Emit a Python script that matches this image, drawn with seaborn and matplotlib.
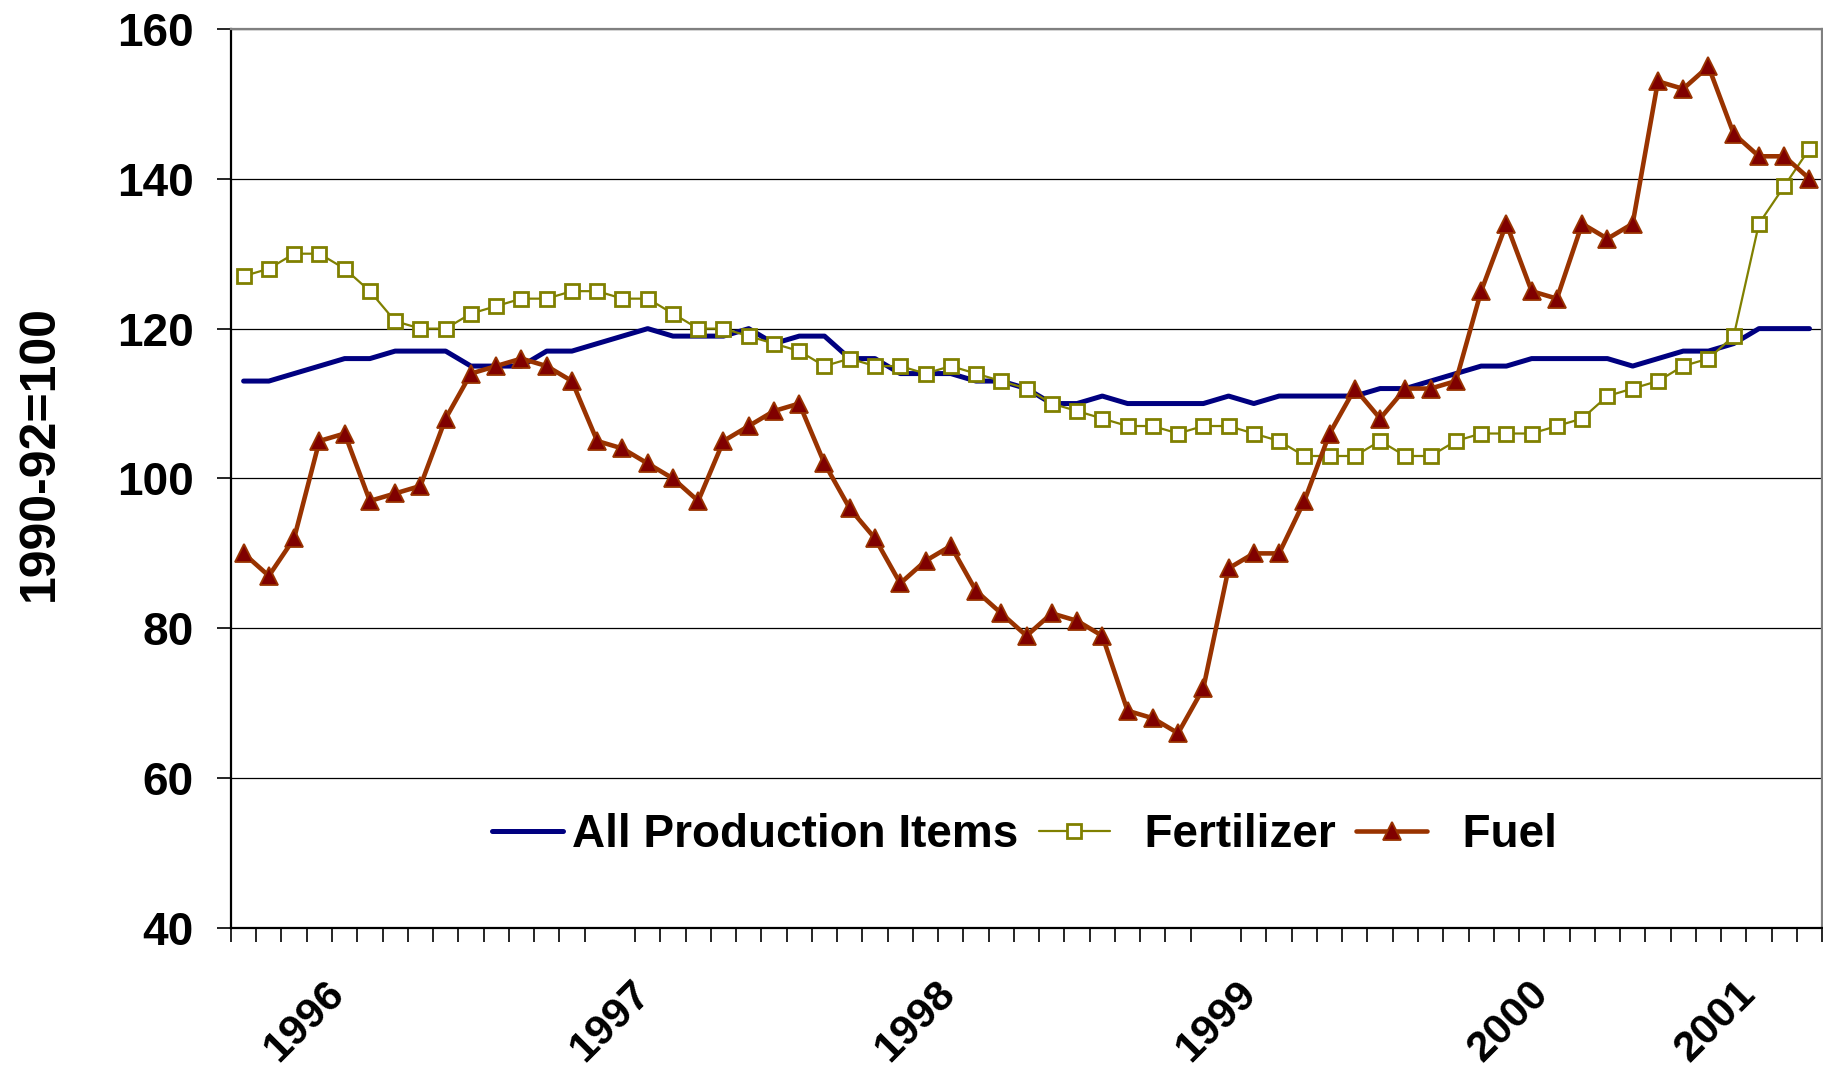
import pandas as pd
import matplotlib.pyplot as plt
import seaborn as sns

# Prix payés par les agriculteurs, indice mensuel (1990-92=100)
all_items = [113, 113, 114, 115, 116, 116, 117, 117, 117, 115, 115, 115, 117, 117, 118, 119, 120, 119, 119, 119,
             120, 118, 119, 119, 116, 116, 114, 114, 114, 113, 113, 112, 110, 110, 111, 110, 110, 110,
             110, 111, 110, 111, 111, 111, 111, 112, 112, 113, 114, 115, 115, 116, 116, 116, 116, 115,
             116, 117, 117, 118, 120, 120, 120]
fertilizer = [127, 128, 130, 130, 128, 125, 121, 120, 120, 122, 123, 124, 124, 125, 125, 124, 124, 122, 120, 120,
              119, 118, 117, 115, 116, 115, 115, 114, 115, 114, 113, 112, 110, 109, 108, 107, 107, 106,
              107, 107, 106, 105, 103, 103, 103, 105, 103, 103, 105, 106, 106, 106, 107, 108, 111, 112,
              113, 115, 116, 119, 134, 139, 144]
fuel = [90, 87, 92, 105, 106, 97, 98, 99, 108, 114, 115, 116, 115, 113, 105, 104, 102, 100, 97, 105,
        107, 109, 110, 102, 96, 92, 86, 89, 91, 85, 82, 79, 82, 81, 79, 69, 68, 66,
        72, 88, 90, 90, 97, 106, 112, 108, 112, 112, 113, 125, 134, 125, 124, 134, 132, 134,
        153, 152, 155, 146, 143, 143, 140]
year_labels = ['1996', '1997', '1998', '1999', '2000', '2001']

# mise en page
year_label_pos = [2.4, 14.5, 26.6, 38.5, 50.1, 58.3]

df = pd.DataFrame({
    'mois': range(len(all_items)),
    'All Production Items': all_items,
    'Fertilizer': fertilizer,
    'Fuel': fuel,
})

sns.set_style('white')
plt.rcParams['font.family'] = ['Liberation Sans', 'DejaVu Sans']
plt.rcParams['font.weight'] = 'bold'
for key in ['text.color', 'axes.labelcolor', 'xtick.color', 'ytick.color']:
    plt.rcParams[key] = 'black'

fig = plt.figure(figsize=(18.23, 10.71), dpi=100)
ax = fig.add_axes([0.1267, 0.1335, 0.8728, 0.8395])

sns.lineplot(data=df, x='mois', y='All Production Items', ax=ax, color='#000080',
             linewidth=3.6, label='All Production Items', errorbar=None, zorder=3)
sns.lineplot(data=df, x='mois', y='Fertilizer', ax=ax, color='#808000', linewidth=1.6,
             marker='s', markersize=9.5, markerfacecolor='white', markeredgecolor='#808000',
             markeredgewidth=2, label='  Fertilizer', errorbar=None, zorder=4)
sns.lineplot(data=df, x='mois', y='Fuel', ax=ax, color='#993300', linewidth=3.3,
             marker='^', markersize=13, markerfacecolor='#800000', markeredgecolor='#993300',
             markeredgewidth=1.3, label='  Fuel', errorbar=None, zorder=5)

ax.set_xlim(-0.5, len(fuel) - 0.5)
ax.set_ylim(40, 160)
ax.set_yticks(range(40, 161, 20))
ax.yaxis.grid(True, color='black', linewidth=0.9)
ax.xaxis.grid(False)

# axe des catégories : un trait par mois, étiquettes des années
ax.set_xticks([i - 0.5 for i in range(len(fuel) + 1)], minor=True)
ax.set_xticks(year_label_pos, year_labels)
ax.tick_params(axis='x', which='minor', bottom=True, length=10, width=1.2, color='black', direction='out')
ax.tick_params(axis='x', which='major', length=0, pad=67, labelsize=31, labelrotation=45)
for lbl in ax.get_xticklabels():
    lbl.set_ha('center')
    lbl.set_va('center')
    lbl.set_fontweight('bold')

ax.tick_params(axis='y', left=True, length=10, width=1.2, color='black', direction='out', pad=17, labelsize=33)
for lbl in ax.get_yticklabels():
    lbl.set_fontweight('bold')

ax.set_xlabel('')
ax.set_ylabel('1990-92=100', fontsize=36, fontweight='bold')
ax.yaxis.label.set_va('center')
ax.yaxis.set_label_coords(-0.12, 0.528)

for side in ['left', 'bottom']:
    ax.spines[side].set_color('black')
    ax.spines[side].set_linewidth(1.6)
for side in ['top', 'right']:
    ax.spines[side].set_color('#808080')
    ax.spines[side].set_linewidth(1.6)

ax.legend(loc='center', bbox_to_anchor=(0.4985, 0.103), ncol=3, frameon=False,
          prop={'size': 33, 'weight': 'bold'}, handlelength=1.55, handletextpad=0.2,
          columnspacing=0.45, numpoints=1)

fig.savefig('out.png', dpi=100)
plt.close(fig)
